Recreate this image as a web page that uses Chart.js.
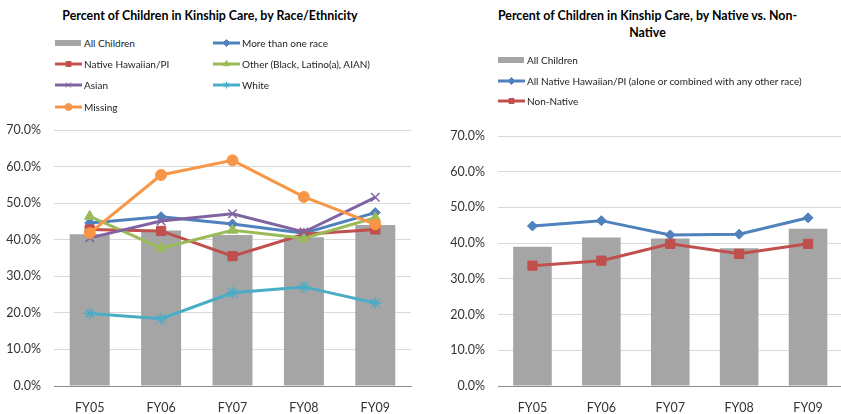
<!DOCTYPE html>
<html>
<head>
<meta charset="utf-8">
<script src="https://cdn.jsdelivr.net/npm/chart.js@4.4.1/dist/chart.umd.min.js"></script>
<style>
  html, body { margin: 0; padding: 0; background: #fff; overflow: hidden; }
  body { width: 841px; height: 414px; position: relative; font-family: Lato, "Liberation Sans", sans-serif; }
  .title { position: absolute; font-weight: bold; font-size: 12.4px; color: #000; text-align: center; line-height: 17px; }
  .legend { position: absolute; font-size: 10px; color: #222; }
  .item { position: absolute; display: flex; align-items: center; white-space: nowrap; height: 14px; }
  .item canvas { margin-right: 2px; }
  .chart { position: absolute; top: 0; }
</style>
</head>
<body>
<div class="title" id="title-left" style="left:0; width:420px; top:7px;">Percent of Children in Kinship Care, by Race/Ethnicity</div>
<div class="title" id="title-right" style="left:440px; width:415px; top:7px;">Percent of Children in Kinship Care, by Native vs. Non-<br>Native</div>
<div class="legend" id="legend-left"></div>
<div class="legend" id="legend-right"></div>
<canvas class="chart" id="race-chart" style="left:0;" width="425" height="414"></canvas>
<canvas class="chart" id="native-chart" style="left:425px;" width="425" height="414"></canvas>

<script>
const YEARS = ['FY05', 'FY06', 'FY07', 'FY08', 'FY09'];

// left chart, percent
const allChildrenRace = [41.5, 42.5, 41.3, 40.7, 44.0];
const moreThanOneRace = [44.6, 46.3, 44.3, 41.8, 47.4];
const nativeHawaiianPI = [42.8, 42.4, 35.5, 41.5, 42.8];
const otherRace = [46.4, 37.7, 42.6, 40.4, 46.0];
const asian = [40.5, 45.1, 47.1, 42.1, 51.6];
const white = [19.8, 18.4, 25.5, 27.1, 22.7];
const missing = [41.8, 57.7, 61.7, 51.7, 44.2];

// right chart, percent
const allChildrenNative = [39.0, 41.6, 41.3, 38.6, 44.0];
const allNativeHawaiian = [44.8, 46.3, 42.3, 42.5, 47.1];
const nonNative = [33.7, 35.1, 39.8, 37.0, 39.8];

const GRAY = '#A5A5A5';
const BLUE = '#4F81BD';
const RED = '#C0504D';
const GREEN = '#9BBB59';
const PURPLE = '#8064A2';
const TEAL = '#4BACC6';
const ORANGE = '#F79646';

const TICK_FONT = { family: 'Lato, "Liberation Sans", sans-serif', size: 12.5 };

function barSet(label, data) {
  return {
    type: 'bar', label, data,
    backgroundColor: GRAY,
    barPercentage: 0.56, categoryPercentage: 1,
    order: 20
  };
}

function lineSet(label, data, color, style, radius, order) {
  const open = style === 'crossRot' || style === 'star';
  return {
    type: 'line', label, data,
    borderColor: color, borderWidth: 3,
    pointStyle: style, pointRadius: radius,
    pointBackgroundColor: color, pointBorderColor: color,
    pointBorderWidth: open ? 1.5 : 1,
    tension: 0, order
  };
}

function makeOptions(padLeft, yWidth, padRight, padTop) {
  return {
    responsive: false,
    animation: false,
    layout: { padding: { left: padLeft, right: padRight, top: padTop, bottom: 0 } },
    plugins: { legend: { display: false }, tooltip: { enabled: false } },
    scales: {
      x: {
        grid: { display: false, drawTicks: false },
        border: { color: '#8C8C8C', width: 1 },
        ticks: { color: '#333', font: TICK_FONT, padding: 14 },
        afterFit: s => { s.height = 28; }
      },
      y: {
        min: 0, max: 70,
        grid: { color: '#D9D9D9', drawTicks: false },
        border: { display: false },
        ticks: { stepSize: 10, color: '#333', font: TICK_FONT, padding: 13, callback: v => v.toFixed(1) + '%' },
        afterFit: s => { s.width = yWidth; }
      }
    }
  };
}

function legendIcon(ds) {
  const c = document.createElement('canvas');
  c.width = 27; c.height = 12;
  const ctx = c.getContext('2d');
  if (ds.type === 'bar') {
    ctx.fillStyle = ds.backgroundColor;
    ctx.fillRect(0, 3, 26, 6);
  } else {
    ctx.strokeStyle = ds.borderColor;
    ctx.lineWidth = 3;
    ctx.beginPath(); ctx.moveTo(0, 6); ctx.lineTo(27, 6); ctx.stroke();
    ctx.fillStyle = ds.borderColor;
    ctx.lineWidth = 1;
    Chart.helpers.drawPoint(ctx, { pointStyle: ds.pointStyle, radius: 3.5, borderWidth: 1 }, 13.5, 6);
  }
  return c;
}

function buildLegend(el, datasets, slots) {
  datasets.forEach((ds, i) => {
    const div = document.createElement('div');
    div.className = 'item';
    div.style.left = slots[i][0] + 'px';
    div.style.top = (slots[i][1] - 7) + 'px';
    div.appendChild(legendIcon(ds));
    const span = document.createElement('span');
    span.textContent = ds.label;
    div.appendChild(span);
    el.appendChild(div);
  });
}

const raceSets = [
  barSet('All Children', allChildrenRace),
  lineSet('More than one race', moreThanOneRace, BLUE, 'rectRot', 5, 6),
  lineSet('Native Hawaiian/PI', nativeHawaiianPI, RED, 'rect', 6.5, 5),
  lineSet('Other (Black, Latino(a), AIAN)', otherRace, GREEN, 'triangle', 6, 4),
  lineSet('Asian', asian, PURPLE, 'crossRot', 6, 3),
  lineSet('White', white, TEAL, 'star', 6, 2),
  lineSet('Missing', missing, ORANGE, 'circle', 5.5, 1)
];

const nativeSets = [
  barSet('All Children', allChildrenNative),
  lineSet('All Native Hawaiian/PI (alone or combined with any other race)', allNativeHawaiian, BLUE, 'rectRot', 5, 2),
  lineSet('Non-Native', nonNative, RED, 'rect', 6.5, 1)
];

new Chart(document.getElementById('race-chart'), {
  data: { labels: YEARS, datasets: raceSets },
  options: makeOptions(0, 54, 14, 130)
});

new Chart(document.getElementById('native-chart'), {
  data: { labels: YEARS, datasets: nativeSets },
  options: makeOptions(0, 73, 3, 136)
});

buildLegend(document.getElementById('legend-left'), raceSets, [
  [55, 43], [213, 43], [55, 64], [213, 64], [55, 85], [213, 85], [55, 107]
]);
buildLegend(document.getElementById('legend-right'), nativeSets, [
  [498, 60], [498, 81], [498, 101]
]);
</script>
</body>
</html>
